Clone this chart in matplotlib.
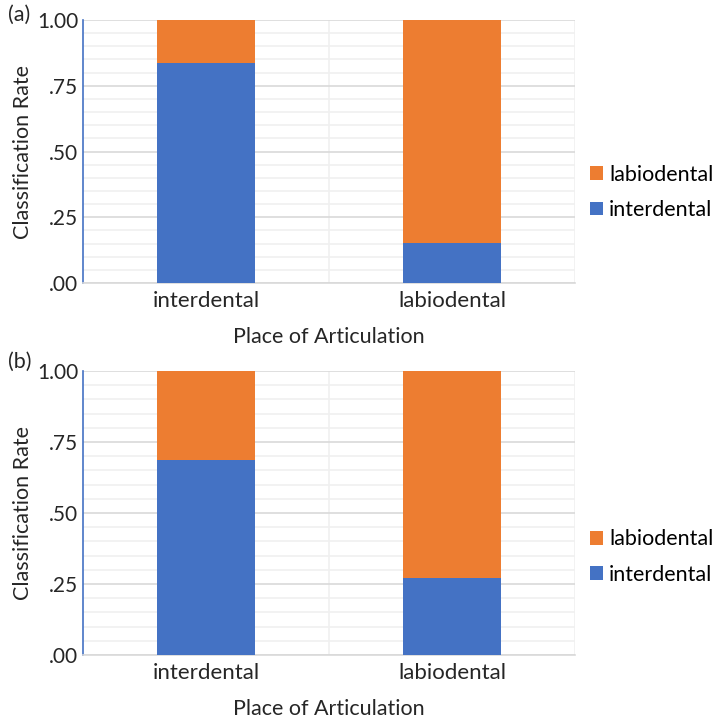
import matplotlib.pyplot as plt
import numpy as np

plt.rcParams['font.family'] = ['Lato', 'DejaVu Sans']

# data
places = ['interdental', 'labiodental']
panel_names = ['(a)', '(b)']
interdental_rate = [[0.835, 0.152], [0.687, 0.272]]
labiodental_rate = [[1 - v for v in row] for row in interdental_rate]
yticks = [0, 0.25, 0.5, 0.75, 1.0]
ytick_labels = ['.00', '.25', '.50', '.75', '1.00']

blue = '#4472C4'
orange = '#ED7D31'
text_col = '#262626'

fig = plt.figure(figsize=(7.21, 7.18), dpi=100)
axes_boxes = [[0.1151, 0.6058, 0.6824, 0.3663],
              [0.1151, 0.0877, 0.6824, 0.3956]]
panel_label_y = [1 - 15 / 718, 1 - 362 / 718]

for i in range(2):
    ax = fig.add_axes(axes_boxes[i])
    x = np.arange(len(places))
    ax.bar(x, interdental_rate[i], width=0.4, color=blue, label='interdental', zorder=3)
    ax.bar(x, labiodental_rate[i], width=0.4, bottom=interdental_rate[i], color=orange,
           label='labiodental', zorder=3)

    ax.set_xlim(-0.5, 1.5)
    ax.set_ylim(0, 1)
    ax.set_yticks(yticks)
    ax.set_yticklabels(ytick_labels)
    ax.set_yticks(np.arange(0, 1.0001, 0.05), minor=True)
    ax.set_xticks(x)
    ax.set_xticklabels(places)
    ax.set_xticks([0.5, 1.5], minor=True)

    ax.grid(axis='y', which='major', color='#d9d9d9', linewidth=1.2, zorder=0)
    ax.grid(axis='y', which='minor', color='#f0f0f0', linewidth=1.2, zorder=0)
    ax.grid(axis='x', which='minor', color='#f0f0f0', linewidth=1.2, zorder=0)
    ax.tick_params(which='both', length=0)
    ax.tick_params(axis='y', labelsize=15, colors=text_col, pad=3.5)
    ax.tick_params(axis='x', labelsize=16, colors=text_col, pad=6)

    ax.spines['left'].set_color(blue)
    ax.spines['left'].set_linewidth(1.2)
    ax.spines['bottom'].set_color('#d9d9d9')
    ax.spines['bottom'].set_linewidth(1.2)
    ax.spines['top'].set_visible(False)
    ax.spines['right'].set_visible(False)

    ax.set_ylabel('Classification Rate', fontsize=15.5, color=text_col, labelpad=3)
    ax.set_xlabel('Place of Articulation', fontsize=15.5, color=text_col, labelpad=11)

    handles, labels = ax.get_legend_handles_labels()
    ax.legend(handles[::-1], labels[::-1], loc='center left', bbox_to_anchor=(1.03, 0.345),
              frameon=False, fontsize=15.5, handlelength=0.6, handleheight=0.6,
              handletextpad=0.3, labelspacing=0.72, borderaxespad=0, borderpad=0)

    fig.text(0.011, panel_label_y[i], panel_names[i], fontsize=15.5,
             color=text_col, va='center')

fig.savefig('out.png', dpi=100)
